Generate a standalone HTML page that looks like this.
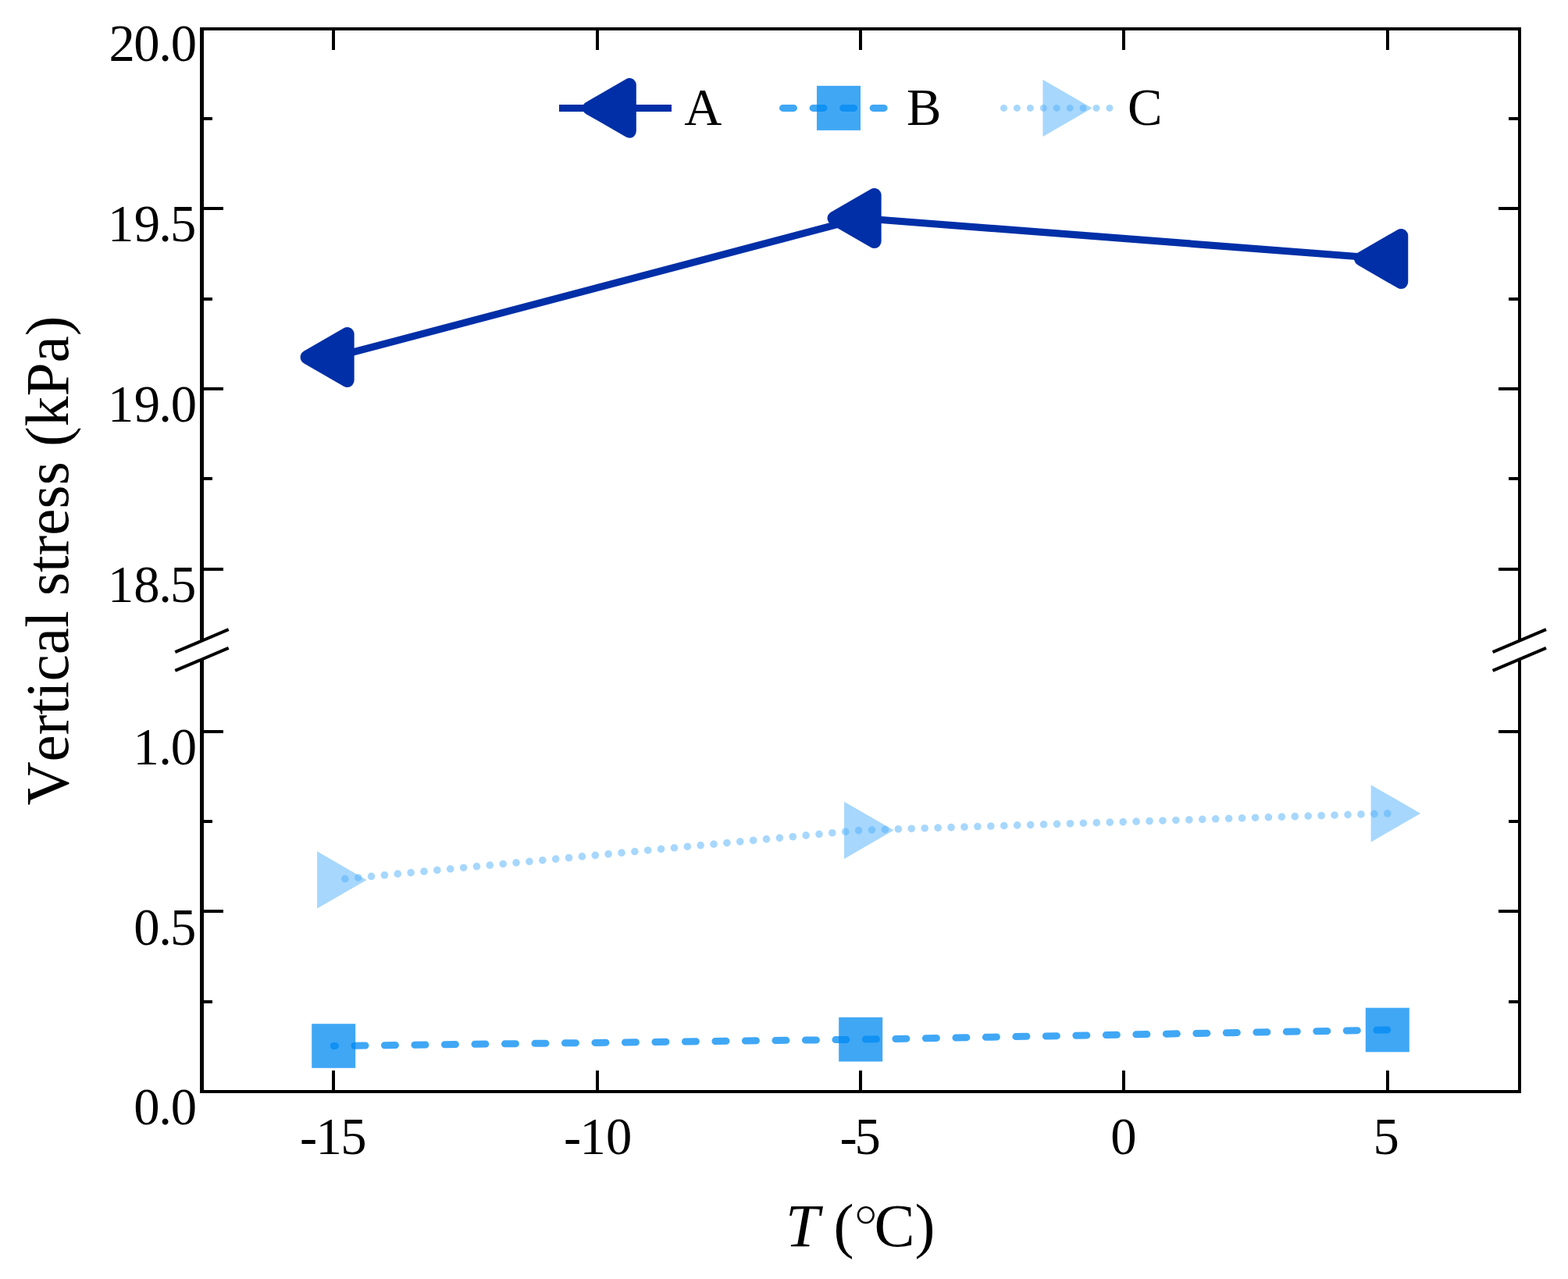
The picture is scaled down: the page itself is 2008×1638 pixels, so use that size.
<!DOCTYPE html>
<html><head><meta charset="utf-8"><title>Vertical stress vs T</title>
<style>html,body{margin:0;padding:0;background:#fff;width:2008px;height:1638px;overflow:hidden}svg{display:block}text{font-kerning:none}</style>
</head><body>
<svg width="2008" height="1638" viewBox="0 0 2008 1638">
<rect x="0" y="0" width="2008" height="1638" fill="#fff"/>
<g fill="#000">
<rect x="256" y="35" width="1692" height="4"/>
<rect x="256" y="1396" width="1692" height="4"/>
<rect x="256" y="35" width="5" height="785.7"/>
<rect x="256" y="844.4" width="5" height="555.6"/>
<rect x="1944" y="35" width="4" height="785.7"/>
<rect x="1944" y="844.4" width="4" height="555.6"/>
<rect x="261" y="265" width="25" height="4"/>
<rect x="1919" y="265" width="25" height="4"/>
<rect x="261" y="496" width="25" height="4"/>
<rect x="1919" y="496" width="25" height="4"/>
<rect x="261" y="727" width="25" height="4"/>
<rect x="1919" y="727" width="25" height="4"/>
<rect x="261" y="935" width="25" height="4"/>
<rect x="1919" y="935" width="25" height="4"/>
<rect x="261" y="1165" width="25" height="4"/>
<rect x="1919" y="1165" width="25" height="4"/>
<rect x="261" y="150" width="11" height="4"/>
<rect x="1932" y="150" width="12" height="4"/>
<rect x="261" y="381" width="11" height="4"/>
<rect x="1932" y="381" width="12" height="4"/>
<rect x="261" y="611" width="11" height="4"/>
<rect x="1932" y="611" width="12" height="4"/>
<rect x="261" y="1050" width="11" height="4"/>
<rect x="1932" y="1050" width="12" height="4"/>
<rect x="261" y="1281" width="11" height="4"/>
<rect x="1932" y="1281" width="12" height="4"/>
<rect x="425.00" y="39" width="4" height="25"/>
<rect x="425.00" y="1371" width="4" height="25"/>
<rect x="763.00" y="39" width="4" height="25"/>
<rect x="763.00" y="1371" width="4" height="25"/>
<rect x="1100.00" y="39" width="4" height="25"/>
<rect x="1100.00" y="1371" width="4" height="25"/>
<rect x="1437.00" y="39" width="4" height="25"/>
<rect x="1437.00" y="1371" width="4" height="25"/>
<rect x="1775.00" y="39" width="4" height="25"/>
<rect x="1775.00" y="1371" width="4" height="25"/>
</g>
<g stroke="#000" stroke-width="4" fill="none">
<line x1="224.3" y1="835.2" x2="292.7" y2="806.2"/>
<line x1="224.3" y1="858.9" x2="292.7" y2="829.9"/>
<line x1="1911.6" y1="835.2" x2="1980.0" y2="806.2"/>
<line x1="1911.6" y1="858.9" x2="1980.0" y2="829.9"/>
</g>
<polyline points="1776.80,1041.80 1102.20,1063.30 427.20,1126.90" fill="none" stroke="rgb(79,175,252)" stroke-opacity="0.5" stroke-width="9.6" stroke-linecap="round" stroke-linejoin="round" stroke-dasharray="0 16.94"/>
<path d="M469.50,1126.90 L406.05,1090.27 L406.05,1163.53 Z" fill="rgb(79,175,252)" fill-opacity="0.5"/>
<path d="M1144.50,1063.30 L1081.05,1026.67 L1081.05,1099.93 Z" fill="rgb(79,175,252)" fill-opacity="0.5"/>
<path d="M1819.10,1041.80 L1755.65,1005.17 L1755.65,1078.43 Z" fill="rgb(79,175,252)" fill-opacity="0.5"/>
<polyline points="1776.80,1319.00 1102.20,1331.20 427.20,1339.50" fill="none" stroke="rgb(0,138,241)" stroke-opacity="0.75" stroke-width="9" stroke-linecap="round" stroke-linejoin="round" stroke-dasharray="14 24.5"/>
<rect x="399.20" y="1311.20" width="56" height="56.6" fill="rgb(0,138,241)" fill-opacity="0.75"/>
<rect x="1074.20" y="1302.90" width="56" height="56.6" fill="rgb(0,138,241)" fill-opacity="0.75"/>
<rect x="1748.80" y="1290.70" width="56" height="56.6" fill="rgb(0,138,241)" fill-opacity="0.75"/>
<polyline points="427.20,457.50 1102.20,279.50 1776.80,331.50" fill="none" stroke="#002FA7" stroke-width="9.2" stroke-linejoin="round"/>
<path d="M393.50,457.50 L444.65,427.97 L444.65,487.03 Z" fill="#002FA7" stroke="#002FA7" stroke-width="18" stroke-linejoin="round"/>
<path d="M1068.50,279.50 L1119.65,249.97 L1119.65,309.03 Z" fill="#002FA7" stroke="#002FA7" stroke-width="18" stroke-linejoin="round"/>
<path d="M1743.10,331.50 L1794.25,301.97 L1794.25,361.03 Z" fill="#002FA7" stroke="#002FA7" stroke-width="18" stroke-linejoin="round"/>
<line x1="716" y1="138.5" x2="860" y2="138.5" stroke="#002FA7" stroke-width="9"/>
<path d="M754.70,138.40 L806.15,108.70 L806.15,168.10 Z" fill="#002FA7" stroke="#002FA7" stroke-width="17.3" stroke-linejoin="round"/>
<line x1="1002.5" y1="138.4" x2="1146.5" y2="138.4" stroke="rgb(0,138,241)" stroke-opacity="0.75" stroke-width="9" stroke-linecap="round" stroke-dasharray="14 24.55"/>
<rect x="1046.00" y="109.90" width="56" height="57" fill="rgb(0,138,241)" fill-opacity="0.75"/>
<line x1="1285.5" y1="138.4" x2="1429.5" y2="138.4" stroke="rgb(79,175,252)" stroke-opacity="0.5" stroke-width="9" stroke-linecap="round" stroke-dasharray="0 16.93"/>
<path d="M1398.65,138.40 L1335.42,101.90 L1335.42,174.90 Z" fill="rgb(79,175,252)" fill-opacity="0.5"/>
<g font-family="Liberation Serif, Times New Roman, serif" font-size="66.67" fill="#000">
<text x="876.3" y="160">A</text>
<text x="1160.9" y="160">B</text>
<text x="1444.1" y="160">C</text>
<text x="139.41 171.33 203.17 218.73" y="78">20.0</text>
<text x="138.10 171.63 203.17 218.10" y="309">19.5</text>
<text x="138.10 171.63 203.17 218.73" y="539.5">19.0</text>
<text x="138.10 171.33 203.17 218.10" y="770.5">18.5</text>
<text x="170.40 203.17 218.73" y="978.5">1.0</text>
<text x="171.33 203.17 218.10" y="1209.5">0.5</text>
<text x="171.33 203.17 218.73" y="1440">0.0</text>
<text x="383.89 404.40 436.20" y="1478">-15</text>
<text x="721.89 742.40 776.11" y="1478">-10</text>
<text x="1075.55 1094.54" y="1478">-5</text>
<text x="1422.33" y="1478">0</text>
<text x="1758.43" y="1478">5</text>
</g>
<g font-family="Liberation Serif, Times New Roman, serif" font-size="78" fill="#000">
<text transform="translate(86.8,717.9) rotate(-90)" text-anchor="middle" font-size="77.3" style="font-kerning:none">Vertical stress (kPa)</text>
<text y="1595.7"><tspan x="1005.9" font-style="italic">T</tspan><tspan x="1067.4">(</tspan><tspan x="1093.3" stroke="#fff" stroke-width="1.3">°</tspan><tspan x="1119.6">C</tspan><tspan x="1171.5">)</tspan></text>
</g>
</svg>
</body></html>
